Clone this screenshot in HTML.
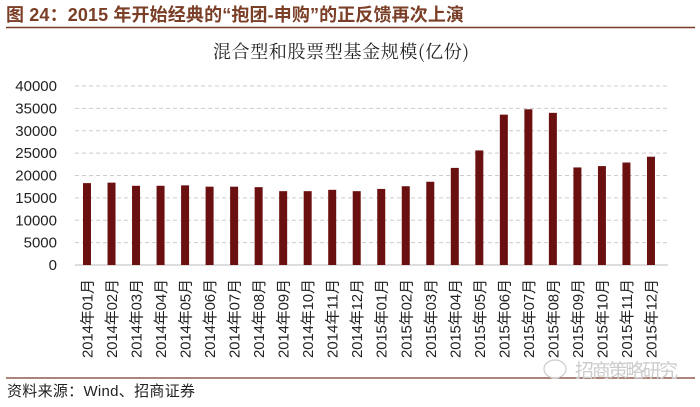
<!DOCTYPE html>
<html><head><meta charset="utf-8"><style>
body{margin:0;background:#fff;width:700px;height:402px;overflow:hidden;font-family:"Liberation Sans","Noto Sans CJK SC",sans-serif}
</style></head><body>
<svg width="700" height="402" xmlns="http://www.w3.org/2000/svg" font-family="Liberation Sans, Noto Sans CJK SC, sans-serif">
<text x="6" y="21" font-size="18" font-weight="bold" fill="#7a3f26" textLength="458">图 24：2015 年开始经典的“抱团-申购”的正反馈再次上演</text>
<line x1="6" y1="27.5" x2="695" y2="27.5" stroke="#7a3a2a" stroke-width="1.5"/>
<text x="341" y="58" font-size="18" text-anchor="middle" fill="#222" font-family="Noto Serif CJK SC, serif" textLength="256">混合型和股票型基金规模(亿份)</text>
<g font-size="15" fill="#222" text-anchor="end" id="y"></g>
<g id="g"></g>
<line x1="6" y1="378" x2="695" y2="378" stroke="#7a3a2a" stroke-width="1.2"/>
<text x="7" y="396" font-size="15" fill="#222" textLength="188">资料来源：Wind、招商证券</text>
<text x="575" y="377" font-size="19" fill="#ccc" textLength="103">招商策略研究</text>
<ellipse cx="555" cy="369" rx="11" ry="9" fill="none" stroke="#ccc" stroke-width="1.2"/>
</svg>
<script>
const NS="http://www.w3.org/2000/svg";
const g=document.getElementById('g'),y=document.getElementById('y');
function el(t,a,p,txt){const e=document.createElementNS(NS,t);for(const k in a)e.setAttribute(k,a[k]);if(txt)e.textContent=txt;p.appendChild(e);return e;}
const y0=265,s=179/40000;
for(let v=0;v<=40000;v+=5000){const yy=y0-v*s;
 el('text',{x:57,y:yy+5},y,String(v));
 if(v>0)el('line',{x1:75,x2:668,y1:yy,y2:yy,stroke:'#ccc','stroke-dasharray':'4,3','stroke-width':1},g);}
el('line',{x1:75,x2:668,y1:y0,y2:y0,stroke:'#bbb','stroke-width':1},g);
const vals=[18300,18400,17700,17700,17800,17500,17500,17400,16500,16500,16800,16500,17000,17600,18600,21700,25600,33600,34800,34000,21800,22100,22900,24200];
vals.forEach((v,i)=>{const cx=87+i*24.52,h=v*s;
 el('rect',{x:cx-4,y:y0-h,width:8,height:h,fill:'#6a1010'},g);
 const yr=i<12?2014:2015,m=String(i%12+1).padStart(2,'0');
 el('text',{x:0,y:0,transform:`translate(${cx+5.5},358) rotate(-90)`,'font-size':15,fill:'#222',textLength:79},g,`${yr}年${m}月`);});
</script>
</body></html>
